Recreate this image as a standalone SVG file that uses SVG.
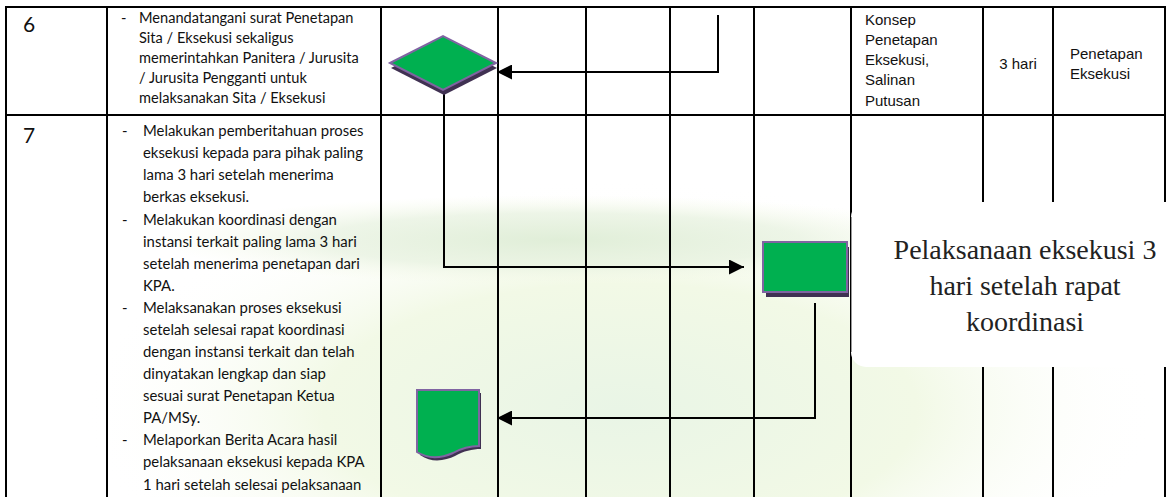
<svg xmlns="http://www.w3.org/2000/svg" width="1171" height="497" viewBox="0 0 1171 497">
<style>
.grid{stroke:#000;stroke-width:2;fill:none}
.body{font-family:Lato,"Open Sans",sans-serif;font-size:14.6px;fill:#111}
.body7{font-family:Lato,"Open Sans",sans-serif;font-size:14.9px;fill:#111}
.num{font-family:Lato,"Open Sans",sans-serif;font-size:21px;fill:#111}
.arial{font-family:"Liberation Sans",Arial,sans-serif;font-size:15px;fill:#111}
.serif{font-family:"Liberation Serif","Times New Roman",serif;font-size:28px;fill:#222;text-anchor:middle}
.shape{fill:#00B050;stroke:#8064A2;stroke-width:2}
.shadow{fill:#403152}
.conn{stroke:#000;stroke-width:2;fill:none}
</style>
<defs>
<marker id="ah" markerWidth="16" markerHeight="15" refX="15" refY="7.5" orient="auto" markerUnits="userSpaceOnUse">
<path d="M0,0 L15,7.5 L0,15 Z" fill="#000"/>
</marker>
<radialGradient id="wm" cx="0.5" cy="0.5" r="0.5">
<stop offset="0" stop-color="#E9F5E6"/>
<stop offset="0.55" stop-color="#F2F9E6"/>
<stop offset="1" stop-color="#FFFFFF" stop-opacity="0"/>
</radialGradient>
<radialGradient id="band" cx="0.5" cy="0.5" r="0.5">
<stop offset="0" stop-color="#E0EED8"/>
<stop offset="0.6" stop-color="#E6F1DE" stop-opacity="0.7"/>
<stop offset="1" stop-color="#F6FAE8" stop-opacity="0"/>
</radialGradient>
</defs>
<rect width="1171" height="497" fill="#fff"/>
<g id="watermark">
<ellipse cx="620" cy="410" rx="540" ry="230" fill="url(#wm)"/>
<ellipse cx="560" cy="240" rx="400" ry="45" fill="url(#band)"/>
</g>
<g id="table">
<line class="grid" x1="5" y1="7" x2="1166" y2="7"/>
<line class="grid" x1="5" y1="115" x2="1166" y2="115"/>
<line class="grid" x1="6" y1="7" x2="6" y2="497"/>
<line class="grid" x1="107" y1="7" x2="107" y2="497"/>
<line class="grid" x1="381" y1="7" x2="381" y2="497"/>
<line class="grid" x1="498" y1="7" x2="498" y2="497"/>
<line class="grid" x1="586" y1="7" x2="586" y2="497"/>
<line class="grid" x1="670" y1="7" x2="670" y2="497"/>
<line class="grid" x1="754" y1="7" x2="754" y2="497"/>
<line class="grid" x1="851" y1="7" x2="851" y2="497"/>
<line class="grid" x1="983" y1="7" x2="983" y2="497"/>
<line class="grid" x1="1053" y1="7" x2="1053" y2="497"/>
<line class="grid" x1="1165" y1="7" x2="1165" y2="497"/>
</g>
<g id="row6-text">
<text class="num" x="23" y="32">6</text>
<text class="body" x="121" y="23">-</text>
<text class="body" x="139" y="23">Menandatangani surat Penetapan</text>
<text class="body" x="139" y="43">Sita / Eksekusi sekaligus</text>
<text class="body" x="139" y="63">memerintahkan Panitera / Jurusita</text>
<text class="body" x="139" y="83">/ Jurusita Pengganti untuk</text>
<text class="body" x="139" y="103">melaksanakan Sita / Eksekusi</text>
</g>
<g id="row6-right">
<text class="arial" x="865" y="24.5">Konsep</text>
<text class="arial" x="865" y="44.5">Penetapan</text>
<text class="arial" x="865" y="64.5">Eksekusi,</text>
<text class="arial" x="865" y="85">Salinan</text>
<text class="arial" x="865" y="105.5">Putusan</text>
<text class="arial" x="1018" y="68.5" text-anchor="middle">3 hari</text>
<text class="arial" x="1070" y="58.5">Penetapan</text>
<text class="arial" x="1070" y="78.5">Eksekusi</text>
</g>
<g id="row7-text">
<text class="num" x="23" y="143">7</text>
<text class="body7" x="122" y="136.2">-</text>
<text class="body7" x="143" y="136.2">Melakukan pemberitahuan proses</text>
<text class="body7" x="143" y="158.3">eksekusi kepada para pihak paling</text>
<text class="body7" x="143" y="180.4">lama 3 hari setelah menerima</text>
<text class="body7" x="143" y="202.4">berkas eksekusi.</text>
<text class="body7" x="122" y="224.5">-</text>
<text class="body7" x="143" y="224.5">Melakukan koordinasi dengan</text>
<text class="body7" x="143" y="246.6">instansi terkait paling lama 3 hari</text>
<text class="body7" x="143" y="268.7">setelah menerima penetapan dari</text>
<text class="body7" x="143" y="290.8">KPA.</text>
<text class="body7" x="122" y="312.8">-</text>
<text class="body7" x="143" y="312.8">Melaksanakan proses eksekusi</text>
<text class="body7" x="143" y="334.9">setelah selesai rapat koordinasi</text>
<text class="body7" x="143" y="357">dengan instansi terkait dan telah</text>
<text class="body7" x="143" y="379.1">dinyatakan lengkap dan siap</text>
<text class="body7" x="143" y="401.2">sesuai surat Penetapan Ketua</text>
<text class="body7" x="143" y="423.2">PA/MSy.</text>
<text class="body7" x="122" y="445.3">-</text>
<text class="body7" x="143" y="445.3">Melaporkan Berita Acara hasil</text>
<text class="body7" x="143" y="467.4">pelaksanaan eksekusi kepada KPA</text>
<text class="body7" x="143" y="489.5">1 hari setelah selesai pelaksanaan</text>
</g>
<g id="connectors">
<path class="conn" d="M718,15 V72 H497" marker-end="url(#ah)"/>
<path class="conn" d="M444,90 V267 H744" marker-end="url(#ah)"/>
<path class="conn" d="M815,303 V418 H497" marker-end="url(#ah)"/>
</g>
<g id="decision">
<polygon class="shadow" points="391,68 444,41 497,68 444,95"/>
<polygon class="shape" points="390,63 443,36 496,63 443,90"/>
</g>
<g id="process">
<rect class="shadow" x="766" y="247" width="83" height="50"/>
<rect class="shape" x="763" y="242" width="84" height="50"/>
</g>
<g id="document">
<path class="shadow" d="M420,393 H481 V449 C472,449 464,451 455,456 C446,460 433,464 420,455 Z"/>
<path class="shape" d="M417,390 H479 V446 C470,446 462,448 453,453 C444,457 431,461 417,452 Z"/>
</g>
<g id="note">
<rect x="851" y="202" width="330" height="165" rx="15" fill="#fff"/>
<line x1="851.5" y1="217" x2="851.5" y2="352" stroke="#999" stroke-width="1"/>
<text class="serif" x="1025" y="259">Pelaksanaan eksekusi 3</text>
<text class="serif" x="1025" y="295">hari setelah rapat</text>
<text class="serif" x="1025" y="331">koordinasi</text>
</g>
</svg>
